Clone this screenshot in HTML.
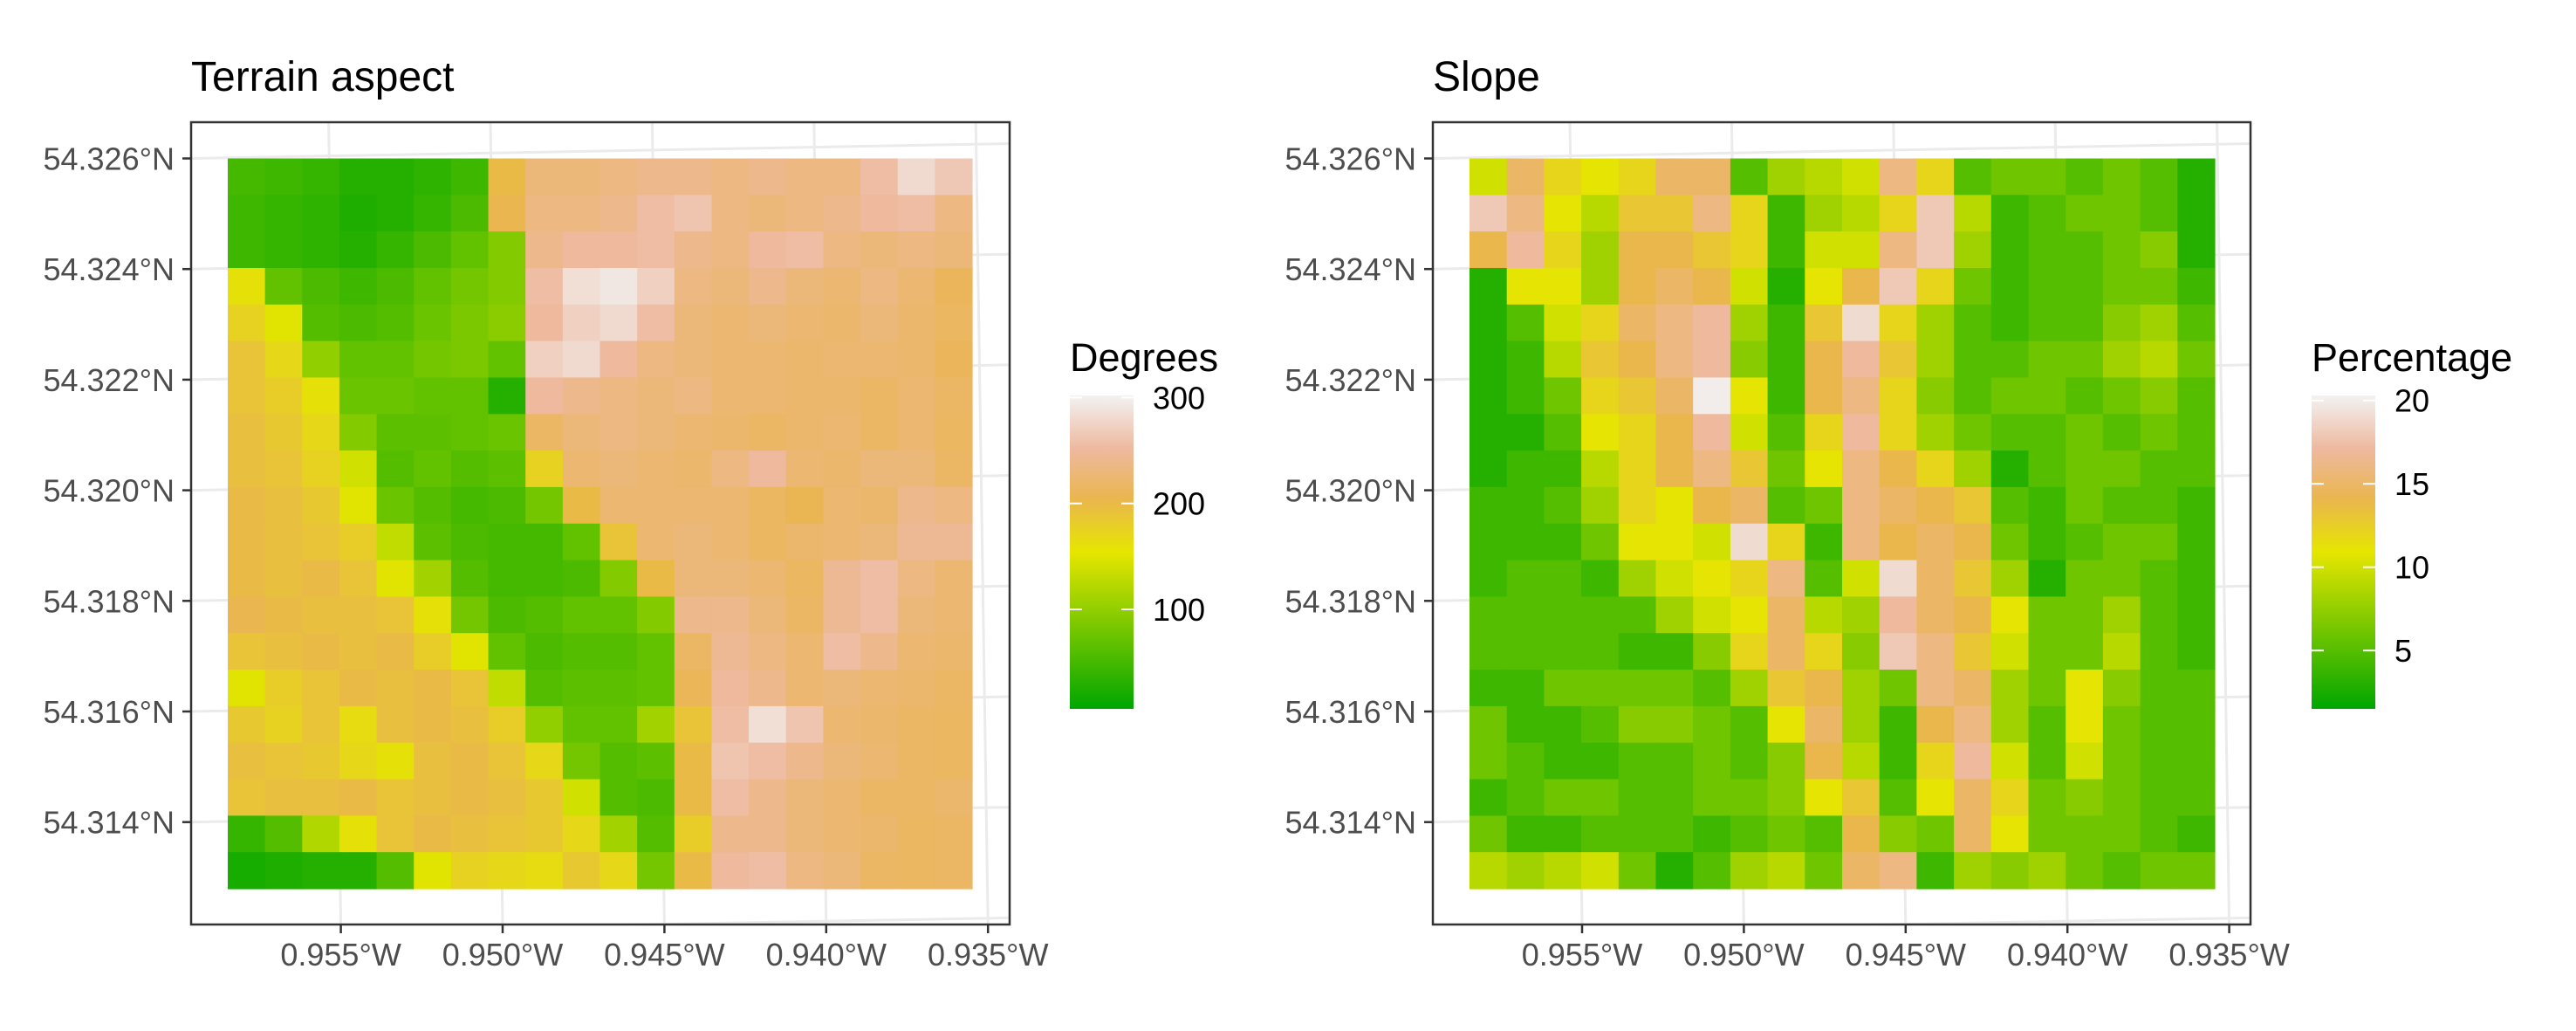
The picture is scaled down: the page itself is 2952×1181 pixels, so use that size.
<!DOCTYPE html>
<html><head><meta charset="utf-8"><style>
html,body{margin:0;padding:0;background:#fff;}
svg{display:block;font-family:"Liberation Sans",Arial,sans-serif;}
</style></head><body>
<svg id="chart" width="2952" height="1181" viewBox="0 0 2952 1181" xmlns="http://www.w3.org/2000/svg"></svg>
<script>
const NS="http://www.w3.org/2000/svg";
const svg=document.getElementById('chart');
const latTicks=[54.326,54.324,54.322,54.320,54.318,54.316,54.314];
const latLabels=["54.326°N","54.324°N","54.322°N","54.320°N","54.318°N","54.316°N","54.314°N"];
const lonTicks=[0.955,0.950,0.945,0.940,0.935];
const lonLabels=["0.955°W","0.950°W","0.945°W","0.940°W","0.935°W"];
const aspectTicks=[100,200,300];
const slopeTicks=[5,10,15,20];
const aspectRange=[6,302];
const slopeRange=[1.5,20.3];
const aspectGrid=[
[50,45,40,30,30,35,45,200,230,230,235,240,240,235,240,235,235,255,280,265],
[45,40,35,25,30,40,55,205,235,235,240,255,262,235,230,235,240,250,255,235],
[45,40,35,30,40,55,70,90,240,250,250,255,240,235,250,255,235,230,235,230],
[160,70,55,45,55,70,80,90,255,285,292,272,235,230,240,230,225,235,225,212],
[175,150,60,55,60,75,85,95,250,272,280,255,230,225,230,225,222,230,222,215],
[190,170,100,70,70,80,85,70,272,280,250,235,230,225,225,222,225,225,222,212],
[190,180,160,75,75,70,70,30,250,240,235,230,235,225,225,222,222,218,225,218],
[195,185,170,90,65,65,70,75,218,230,235,230,225,222,218,222,225,218,225,215],
[195,190,175,140,60,70,60,65,175,225,230,225,222,235,250,225,222,230,230,218],
[200,195,185,150,75,60,50,55,80,200,225,225,225,225,215,208,225,222,240,235],
[200,195,190,180,130,65,55,50,50,70,190,225,230,225,215,222,225,230,245,245],
[200,195,200,190,150,110,60,50,50,55,90,200,230,230,225,215,245,255,235,225],
[205,200,195,195,190,160,80,55,60,70,70,90,240,240,230,218,245,255,230,225],
[190,195,200,195,200,180,150,70,55,60,60,70,218,245,235,225,255,240,225,222],
[150,180,190,200,195,200,190,130,60,65,65,70,210,250,240,225,230,225,222,218],
[185,175,190,165,195,200,195,180,100,70,70,110,190,255,285,262,225,222,218,215],
[195,190,185,170,160,195,200,190,170,80,60,65,200,262,255,240,230,225,218,215],
[190,195,195,200,190,195,200,195,185,140,60,55,200,255,240,230,225,218,218,222],
[40,60,120,160,190,200,195,190,185,170,110,60,180,240,240,230,225,222,215,218],
[20,25,30,30,60,150,175,170,165,185,170,80,200,250,255,235,230,218,215,218]];
const slopeGrid=[
[10,15,12,11,12,15,15,5,8,9,10,16,12,5,6,6,5,6,5,3],
[18,16,11,9,13,13,16,12,4,8,9,12,18,9,4,5,6,6,5,3],
[14,17,12,8,14,14,13,12,4,10,10,16,18,8,4,5,5,6,7,3],
[3,11,11,8,14,15,14,10,3,11,14,18,12,6,4,5,5,6,6,4],
[3,5,10,12,15,16,17,8,4,13,19,12,8,5,4,5,5,7,8,5],
[3,4,9,13,14,16,17,7,4,14,17,13,8,5,5,6,6,8,9,6],
[3,4,6,12,13,15,20,11,4,14,16,12,7,5,6,6,5,6,7,5],
[3,3,5,11,12,14,17,10,5,12,17,12,8,6,5,5,6,5,6,5],
[3,4,4,9,12,14,16,13,6,11,16,14,12,8,3,5,6,6,5,5],
[4,4,5,8,12,11,14,15,5,6,16,15,14,13,5,4,6,5,5,4],
[4,4,4,6,11,11,10,19,12,4,16,14,15,14,6,4,5,6,6,4],
[4,5,5,4,8,10,11,12,16,5,10,19,15,13,8,3,6,6,5,4],
[5,5,5,5,5,8,10,11,15,9,8,17,15,14,11,6,6,8,5,4],
[5,5,5,5,4,4,7,12,15,12,7,18,16,13,10,6,6,9,5,4],
[4,4,6,6,6,6,5,8,13,14,8,6,16,15,8,6,11,7,5,5],
[6,4,4,5,7,7,6,5,11,15,8,4,14,16,8,5,11,6,5,5],
[6,5,4,4,5,5,6,5,7,14,9,4,12,17,10,5,10,6,5,5],
[4,5,6,6,5,5,6,6,7,11,13,5,11,15,12,6,7,6,5,5],
[6,4,4,5,5,5,4,5,6,5,14,7,6,15,11,6,6,6,5,4],
[9,8,9,10,6,3,5,8,9,6,15,16,4,8,7,8,6,5,6,6]];

const stops=[[0,[0,166,0]],[0.5,[230,230,0]],[0.67,[234,182,78]],[0.83,[238,185,159]],[1,[242,242,242]]];
function cmap(f){f=Math.max(0,Math.min(1,f));
 for(let i=1;i<stops.length;i++){if(f<=stops[i][0]){const a=stops[i-1],b=stops[i];const t=(f-a[0])/(b[0]-a[0]);
  const c=a[1].map((v,k)=>Math.round(v+(b[1][k]-v)*t));return `rgb(${c[0]},${c[1]},${c[2]})`;}}
 return 'rgb(242,242,242)';}
function el(tag,attrs,parent){const e=document.createElementNS(NS,tag);for(const k in attrs)e.setAttribute(k,attrs[k]);(parent||svg).appendChild(e);return e;}

function panel(cfg){
 const g=el('g',{});
 
 
 const clipId=cfg.name+'-clip';
 const defs=el('defs',{},g);
 const cp=el('clipPath',{id:clipId},defs);
 el('rect',{x:cfg.box[0],y:cfg.box[1],width:cfg.box[2]-cfg.box[0],height:cfg.box[3]-cfg.box[1]},cp);
 const lonX=lon=>cfg.x955+(0.955-lon)/0.005*cfg.dx;
 const latY=lat=>cfg.y326+(54.326-lat)/0.002*126.7;
 const grid=el('g',{'clip-path':`url(#${clipId})`},g);
 
 
 const W=cfg.box[2]-cfg.box[0];
 [54.328,54.326,54.324,54.322,54.320,54.318,54.316,54.314,54.312].forEach(lat=>{
   const y=latY(lat);
   const l=el('line',{x1:cfg.box[0],y1:y,x2:cfg.box[2],y2:y-17,stroke:'#ebebeb','stroke-width':3},grid);
   
   
 });
 [0.960,0.955,0.950,0.945,0.940,0.935,0.930].forEach(lon=>{
   const x=lonX(lon);
   const l=el('line',{x1:x-14,y1:cfg.box[1],x2:x,y2:cfg.box[3],stroke:'#ebebeb','stroke-width':3},grid);
   
   
 });
 const data=cfg.data,nr=data.length,nc=data[0].length;
 const cw=(cfg.r[2]-cfg.r[0])/nc,ch=(cfg.r[3]-cfg.r[1])/nr;
 const ras=el('g',{},g);
 
 
 for(let r=0;r<nr;r++)for(let c=0;c<nc;c++){
   const f=(data[r][c]-cfg.range[0])/(cfg.range[1]-cfg.range[0]);
   const cell=el('rect',{x:cfg.r[0]+c*cw,y:cfg.r[1]+r*ch,width:cw+0.6,height:ch+0.6,fill:cmap(f)},ras);
   
   
 }
 const border=el('rect',{x:cfg.box[0],y:cfg.box[1],width:W,height:cfg.box[3]-cfg.box[1],fill:'none',stroke:'#333333','stroke-width':2.5},g);
 
 
 latTicks.forEach((lat,i)=>{
   const y=latY(lat);
   el('line',{x1:cfg.box[0]-10,y1:y,x2:cfg.box[0],y2:y,stroke:'#333333','stroke-width':2.5},g);
   const t=el('text',{x:cfg.box[0]-19,y:y+13,'text-anchor':'end','font-size':36,fill:'#4d4d4d'},g);
   t.textContent=latLabels[i];
   
   
 });
 lonTicks.forEach((lon,i)=>{
   const x=lonX(lon);
   el('line',{x1:x,y1:cfg.box[3],x2:x,y2:cfg.box[3]+10,stroke:'#333333','stroke-width':2.5},g);
   const t=el('text',{x:x,y:cfg.box[3]+47,'text-anchor':'middle','font-size':36,fill:'#4d4d4d'},g);
   t.textContent=lonLabels[i];
   
   
 });
 const title=el('text',{x:cfg.box[0],y:104,'font-size':48,fill:'#000'},g);
 title.textContent=cfg.title;
 
 
 const lg=el('g',{},g);
 
 
 const lt=el('text',{x:cfg.leg[0],y:425,'font-size':45,fill:'#000'},lg);
 lt.textContent=cfg.legTitle;
 
 
 const gid=cfg.name+'-grad';
 const gr=el('linearGradient',{id:gid,x1:0,y1:1,x2:0,y2:0},defs);
 stops.forEach(s=>el('stop',{offset:s[0],'stop-color':`rgb(${s[1].join(',')})`},gr));
 const by0=453,by1=812,bx0=cfg.leg[0],bx1=cfg.leg[0]+73;
 const bar=el('rect',{x:bx0,y:by0,width:bx1-bx0,height:by1-by0,fill:`url(#${gid})`},lg);
 
 
 cfg.ticks.forEach(v=>{
   const y=by1-(v-cfg.range[0])/(cfg.range[1]-cfg.range[0])*(by1-by0);
   el('line',{x1:bx0,y1:y,x2:bx0+14,y2:y,stroke:'#fff','stroke-width':2},lg);
   el('line',{x1:bx1-14,y1:y,x2:bx1,y2:y,stroke:'#fff','stroke-width':2},lg);
   const t=el('text',{x:bx1+22,y:y+13,'font-size':36,fill:'#000'},lg);
   t.textContent=String(v);
   
   
 });
}
panel({name:'aspect',title:'Terrain aspect',legTitle:'Degrees',data:aspectGrid,range:aspectRange,ticks:aspectTicks,
 box:[219,140,1157,1059],r:[261,181.5,1114,1018],x955:390.6,dx:185.4,y326:181.5,leg:[1226]});
panel({name:'slope',title:'Slope',legTitle:'Percentage',data:slopeGrid,range:slopeRange,ticks:slopeTicks,
 box:[1642,140,2579,1059],r:[1684,181.5,2538,1018],x955:1813,dx:185.4,y326:181.5,leg:[2649]});
</script>
</body></html>
